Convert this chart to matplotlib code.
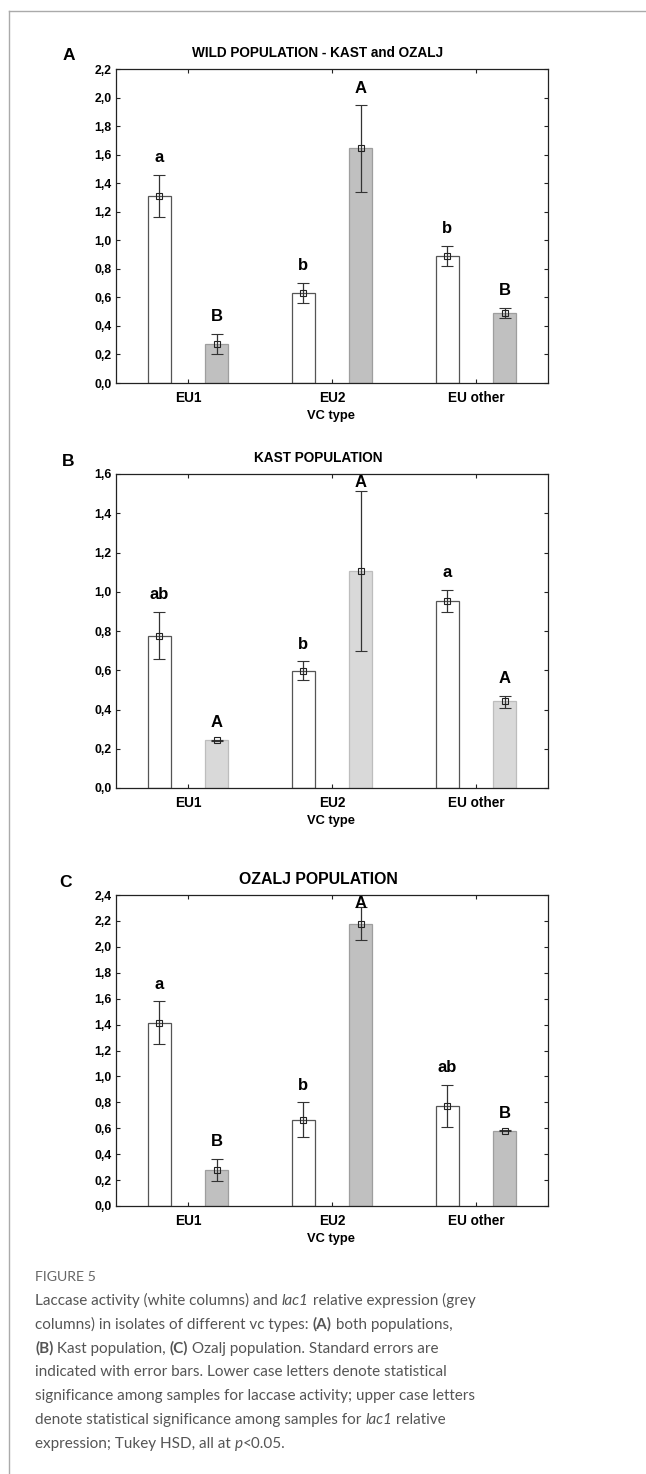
import matplotlib
matplotlib.use("Agg")
import matplotlib.pyplot as plt
from matplotlib.ticker import FuncFormatter, MultipleLocator
from matplotlib.lines import Line2D
import numpy as np

categories = ['EU1', 'EU2', 'EU other']

# panel A - both populations
a_white = [1.31, 0.63, 0.89]
a_white_lo = [1.16, 0.56, 0.82]
a_white_hi = [1.46, 0.70, 0.96]
a_grey = [0.275, 1.645, 0.49]
a_grey_lo = [0.205, 1.335, 0.455]
a_grey_hi = [0.345, 1.945, 0.525]
a_white_letters = ['a', 'b', 'b']
a_grey_letters = ['B', 'A', 'B']

# panel B - Kast
b_white = [0.777, 0.598, 0.955]
b_white_lo = [0.655, 0.55, 0.899]
b_white_hi = [0.897, 0.645, 1.01]
b_grey = [0.243, 1.104, 0.443]
b_grey_lo = [0.24, 0.698, 0.41]
b_grey_hi = [0.246, 1.515, 0.471]
b_white_letters = ['ab', 'b', 'a']
b_grey_letters = ['A', 'A', 'A']

# panel C - Ozalj
c_white = [1.413, 0.665, 0.771]
c_white_lo = [1.248, 0.531, 0.606]
c_white_hi = [1.58, 0.799, 0.936]
c_grey = [0.281, 2.176, 0.58]
c_grey_lo = [0.196, 2.052, 0.575]
c_grey_hi = [0.366, 2.305, 0.585]
c_white_letters = ['a', 'b', 'ab']
c_grey_letters = ['B', 'A', 'B']

caption = [
    [('Laccase activity (white columns) and ', 'n'), ('lac1', 'i'), (' relative expression (grey', 'n')],
    [('columns) in isolates of different vc types: ', 'n'), ('(A)', 'b'), (' both populations,', 'n')],
    [('(B)', 'b'), (' Kast population, ', 'n'), ('(C)', 'b'), (' Ozalj population. Standard errors are', 'n')],
    [('indicated with error bars. Lower case letters denote statistical', 'n')],
    [('significance among samples for laccase activity; upper case letters', 'n')],
    [('denote statistical significance among samples for ', 'n'), ('lac1', 'i'), (' relative', 'n')],
    [('expression; Tukey HSD, all at ', 'n'), ('p', 'i'), ('<0.05.', 'n')],
]

W, H = 646, 1474
fig = plt.figure(figsize=(W / 100, H / 100), dpi=100)
FONT = 'Liberation Sans'


def px(x, y):
    return x / W, 1 - y / H


def panel(rect, title, title_size, letter, letter_xy, ymax,
          white, wlo, whi, grey, glo, ghi, wlet, glet, grey_fc, grey_ec):
    ax = fig.add_axes(rect)
    x = np.arange(len(categories))
    off, bw = 0.2, 0.16
    ax.bar(x - off, white, bw, color='white', edgecolor='#555555', linewidth=0.9, zorder=2)
    ax.bar(x + off, grey, bw, color=grey_fc, edgecolor=grey_ec, linewidth=0.9, zorder=2)
    for xs, v, lo, hi in [(x - off, white, wlo, whi), (x + off, grey, glo, ghi)]:
        v = np.array(v)
        err = [v - np.array(lo), np.array(hi) - v]
        ax.errorbar(xs, v, yerr=err, fmt='s', ms=4, mfc='none', mec='#222222', mew=0.8,
                    ecolor='#333333', elinewidth=0.9, capsize=4.3, capthick=0.9, zorder=3)
    for xs, his, lets in [(x - off, whi, wlet), (x + off, ghi, glet)]:
        for xi, hi, t in zip(xs, his, lets):
            y = min(hi + 0.055 * ymax, 0.972 * ymax)
            ax.text(xi, y, t, ha='center', va='center', fontsize=12,
                    fontweight='bold', family=FONT, zorder=4)
    ax.set_xlim(-0.5, 2.5)
    ax.set_ylim(0, ymax)
    ax.set_xticks(x)
    ax.set_xticklabels(categories)
    ax.yaxis.set_major_locator(MultipleLocator(0.2))
    ax.yaxis.set_major_formatter(FuncFormatter(lambda v, p: f"{v:.1f}".replace('.', ',')))
    ax.tick_params(direction='in', length=3, width=0.8, top=True, right=True,
                   colors='#222222', labelcolor='black')
    ax.tick_params(axis='x', pad=6, labelsize=9.8)
    ax.tick_params(axis='y', pad=3, labelsize=8.8)
    for lab in ax.get_xticklabels() + ax.get_yticklabels():
        lab.set_fontweight('bold')
        lab.set_family(FONT)
    for s in ax.spines.values():
        s.set_linewidth(0.9)
        s.set_color('#222222')
    bb = ax.get_position()
    top_px = (1 - bb.y1) * H
    bot_px = (1 - bb.y0) * H
    fig.text(318 / W, 1 - (top_px - 16) / H, title, ha='center', va='center',
             fontsize=title_size, fontweight='bold', family=FONT)
    fig.text(*px(*letter_xy), letter, ha='center', va='center', fontsize=12.5,
             fontweight='bold', family=FONT)
    fig.text(331 / W, 1 - (bot_px + 33) / H, 'VC type', ha='center', va='center',
             fontsize=9.3, fontweight='bold', family=FONT)
    return ax


panel([116 / W, 1 - 383 / H, 432 / W, 314 / H], 'WILD POPULATION - KAST and OZALJ', 9.8,
      'A', (69, 56), 2.2, a_white, a_white_lo, a_white_hi, a_grey, a_grey_lo, a_grey_hi,
      a_white_letters, a_grey_letters, '#c0c0c0', '#9e9e9e')
panel([116 / W, 1 - 788 / H, 432 / W, 314 / H], 'KAST POPULATION', 9.8,
      'B', (68, 462), 1.6, b_white, b_white_lo, b_white_hi, b_grey, b_grey_lo, b_grey_hi,
      b_white_letters, b_grey_letters, '#d9d9d9', '#bdbdbd')
panel([116 / W, 1 - 1206 / H, 432 / W, 311 / H], 'OZALJ POPULATION', 11.4,
      'C', (65, 882), 2.4, c_white, c_white_lo, c_white_hi, c_grey, c_grey_lo, c_grey_hi,
      c_white_letters, c_grey_letters, '#c0c0c0', '#9e9e9e')

# page frame (top and left rule)
fig.add_artist(Line2D([9 / W, 9 / W], [0, 1 - 11 / H], color='#aaaaaa', lw=1))
fig.add_artist(Line2D([9 / W, 1], [1 - 11 / H, 1 - 11 / H], color='#aaaaaa', lw=1))

# caption
CAP = 'Lato'
CAP_COLOR = '#555555'
CAP_SIZE = 11.0
fig.text(35 / W, 1 - 1277 / H, 'FIGURE 5', ha='left', va='center', fontsize=10.2,
         family=CAP, color='#666666')

renderer = fig.canvas.get_renderer()
line_y = [1300, 1324, 1348, 1371, 1395, 1419, 1443]


def advance(txt, kw):
    # width including trailing spaces: measure against a sentinel character
    t1 = fig.text(0, 0, txt + '|', **kw)
    t2 = fig.text(0, 0, '|', **kw)
    w = t1.get_window_extent(renderer).width - t2.get_window_extent(renderer).width
    t1.remove()
    t2.remove()
    return w


for parts, ly in zip(caption, line_y):
    xpos = 35.0
    for txt, st in parts:
        kw = dict(fontsize=CAP_SIZE, family=CAP, color=CAP_COLOR, va='baseline', ha='left')
        if st == 'b':
            kw['fontweight'] = 'bold'
        if st == 'i':
            kw['fontstyle'] = 'italic'
        fig.text(xpos / W, 1 - (ly + 5) / H, txt, **kw)
        xpos += advance(txt, kw)

fig.savefig('out.png', dpi=100)
